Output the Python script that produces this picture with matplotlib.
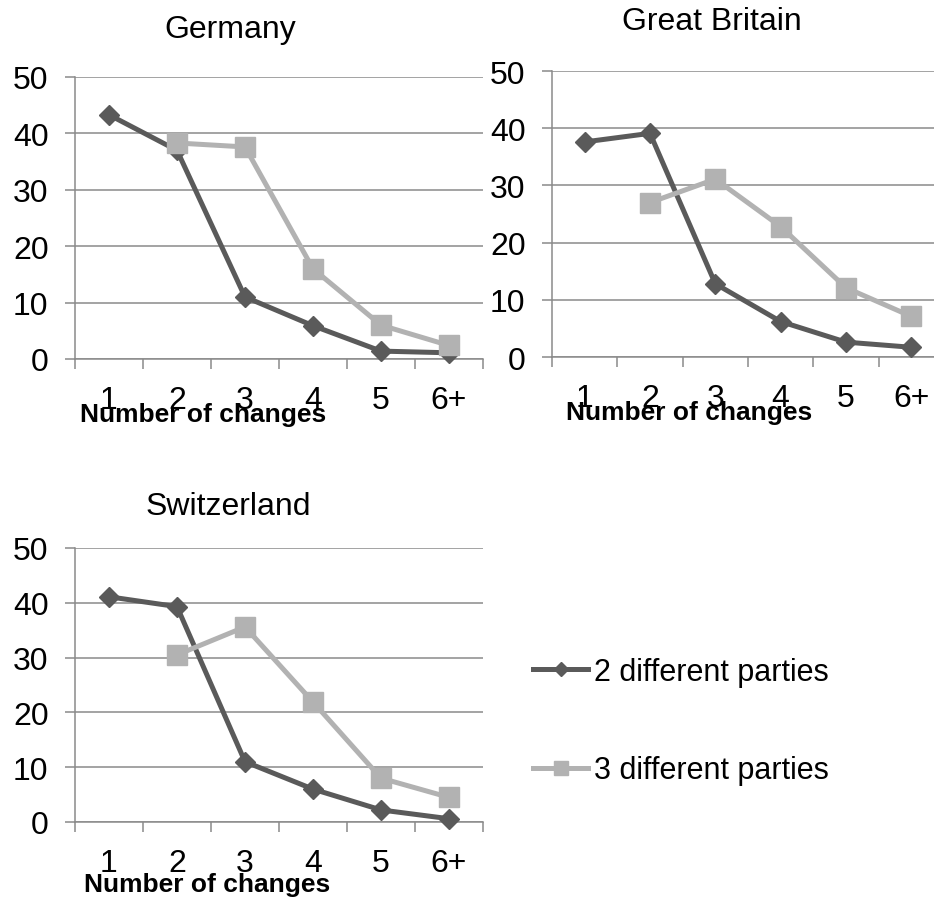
import numpy as np
import matplotlib
matplotlib.use('Agg')
import matplotlib.pyplot as plt
from matplotlib.ticker import FixedLocator

plt.rcParams['font.family'] = ['Liberation Sans', 'DejaVu Sans']

# data (share in %)
categories = ['1', '2', '3', '4', '5', '6+']
series_names = ['2 different parties', '3 different parties']

germany_two = [43.3, 37.0, 11.0, 5.9, 1.4, 1.1]
germany_three = [np.nan, 38.3, 37.6, 16.0, 6.0, 2.4]
britain_two = [37.6, 39.1, 12.8, 6.2, 2.6, 1.7]
britain_three = [np.nan, 27.0, 31.1, 22.8, 12.1, 7.1]
swiss_two = [41.1, 39.3, 11.0, 6.0, 2.2, 0.6]
swiss_three = [np.nan, 30.5, 35.6, 21.9, 8.0, 4.5]

W, H = 934, 903
DARK = '#5a5a5a'
LIGHT = '#b2b2b2'
GRID = '#8a8a8a'

fig = plt.figure(figsize=(W / 100, H / 100), dpi=100)


def box(left, top, right, bottom):
    # pixel box -> figure fraction
    return [left / W, 1 - bottom / H, (right - left) / W, (bottom - top) / H]


def panel(rect, two, three, title, title_xy, xlabel_xy):
    ax = fig.add_axes(box(*rect))
    x = np.arange(1, len(categories) + 1)
    ax.plot(x, two, color=DARK, lw=3.6, marker='D', ms=10.5,
            label=series_names[0], zorder=3, clip_on=False)
    ax.plot(x, three, color=LIGHT, lw=3.6, marker='s', ms=14,
            label=series_names[1], zorder=4, clip_on=False)

    ax.set_xlim(0.5, len(categories) + 0.5)
    ax.set_ylim(0, 50)
    ax.set_yticks(range(0, 51, 10))
    ax.grid(axis='y', color=GRID, lw=1.1)
    ax.set_axisbelow(True)

    ax.set_xticks(x)
    ax.set_xticklabels(categories)
    ax.xaxis.set_minor_locator(FixedLocator(np.arange(0.5, len(categories) + 1)))
    ax.tick_params(axis='x', which='major', length=0, pad=19, labelsize=23)
    ax.tick_params(axis='x', which='minor', length=7, width=1.1,
                   color=GRID, direction='out')
    ax.tick_params(axis='y', length=7, width=1.1, color=GRID, pad=12,
                   labelsize=23)

    for side in ['top', 'right']:
        ax.spines[side].set_visible(False)
    ax.spines['left'].set_color(GRID)
    ax.spines['left'].set_linewidth(1.1)
    ax.spines['bottom'].set_color(GRID)
    ax.spines['bottom'].set_linewidth(1.1)

    fig.text(title_xy[0] / W, 1 - title_xy[1] / H, title,
             ha='center', va='center', fontsize=23)
    fig.text(xlabel_xy[0] / W, 1 - xlabel_xy[1] / H, 'Number of changes',
             ha='center', va='center', fontsize=19, fontweight='bold')
    return ax


ax_de = panel((75, 78, 483, 360), germany_two, germany_three,
              'Germany', (230, 30), (203, 415))
ax_gb = panel((552, 72, 944, 358), britain_two, britain_three,
              'Great Britain', (712, 22), (689, 413))
ax_ch = panel((75, 549, 483, 823), swiss_two, swiss_three,
              'Switzerland', (228, 507), (207, 885))

handles, labels = ax_de.get_legend_handles_labels()
fig.legend(handles, labels, loc='center left',
           bbox_to_anchor=(518 / W, 1 - 722 / H), frameon=False,
           fontsize=22, handlelength=1.8, handletextpad=0.2,
           labelspacing=2.25, borderpad=0, markerscale=0.7)

fig.savefig('out.png', dpi=100)
